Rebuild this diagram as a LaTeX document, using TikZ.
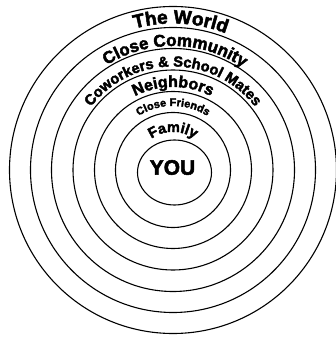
\documentclass[tikz,border=0pt]{standalone}
\usepackage{fontspec}
\newfontfamily\ringfont[FakeBold=2.5]{Liberation Sans Bold}
\usetikzlibrary{decorations.text}
\tikzset{
  ring/.style={line width=1.1pt},
  ringtext/.style 2 args={decorate, decoration={text along path, text align=center,
      text={|\ringfont\fontsize{#1}{#1}\selectfont|#2}}}
}
\begin{document}
\begin{tikzpicture}[x=1pt,y=1pt]
  \useasboundingbox (-173,-167) rectangle (163,170);
  % Cerchi
  \foreach \r in {57.5,78.5,100,121.5,142.5,163.5}
    \draw[ring] (0,0) circle (\r);
  \draw[ring] (1.5,-2.5) ellipse (37 and 32.5);
  \node[font=\ringfont\fontsize{21}{21}\selectfont] (you) at (-0.5,2.5) {YOU};
  % Etichette sugli archi
  \path[ringtext={19}{The World}] (177:146.5) arc (177:-3:146.5);
  \path[ringtext={17}{Close Community}] (179:124) arc (179:-1:124);
  \path[ringtext={14.7}{Coworkers {\&} School Mates}] (180:103.5) arc (180:0:103.5);
  \path[ringtext={16}{Neighbors}] (180:83) arc (180:0:83);
  \path[ringtext={11}{Close Friends}] (180:64) arc (180:0:64);
  \path[ringtext={14.5}{Family}] (180:38) arc (180:0:38);
\end{tikzpicture}
\end{document}
